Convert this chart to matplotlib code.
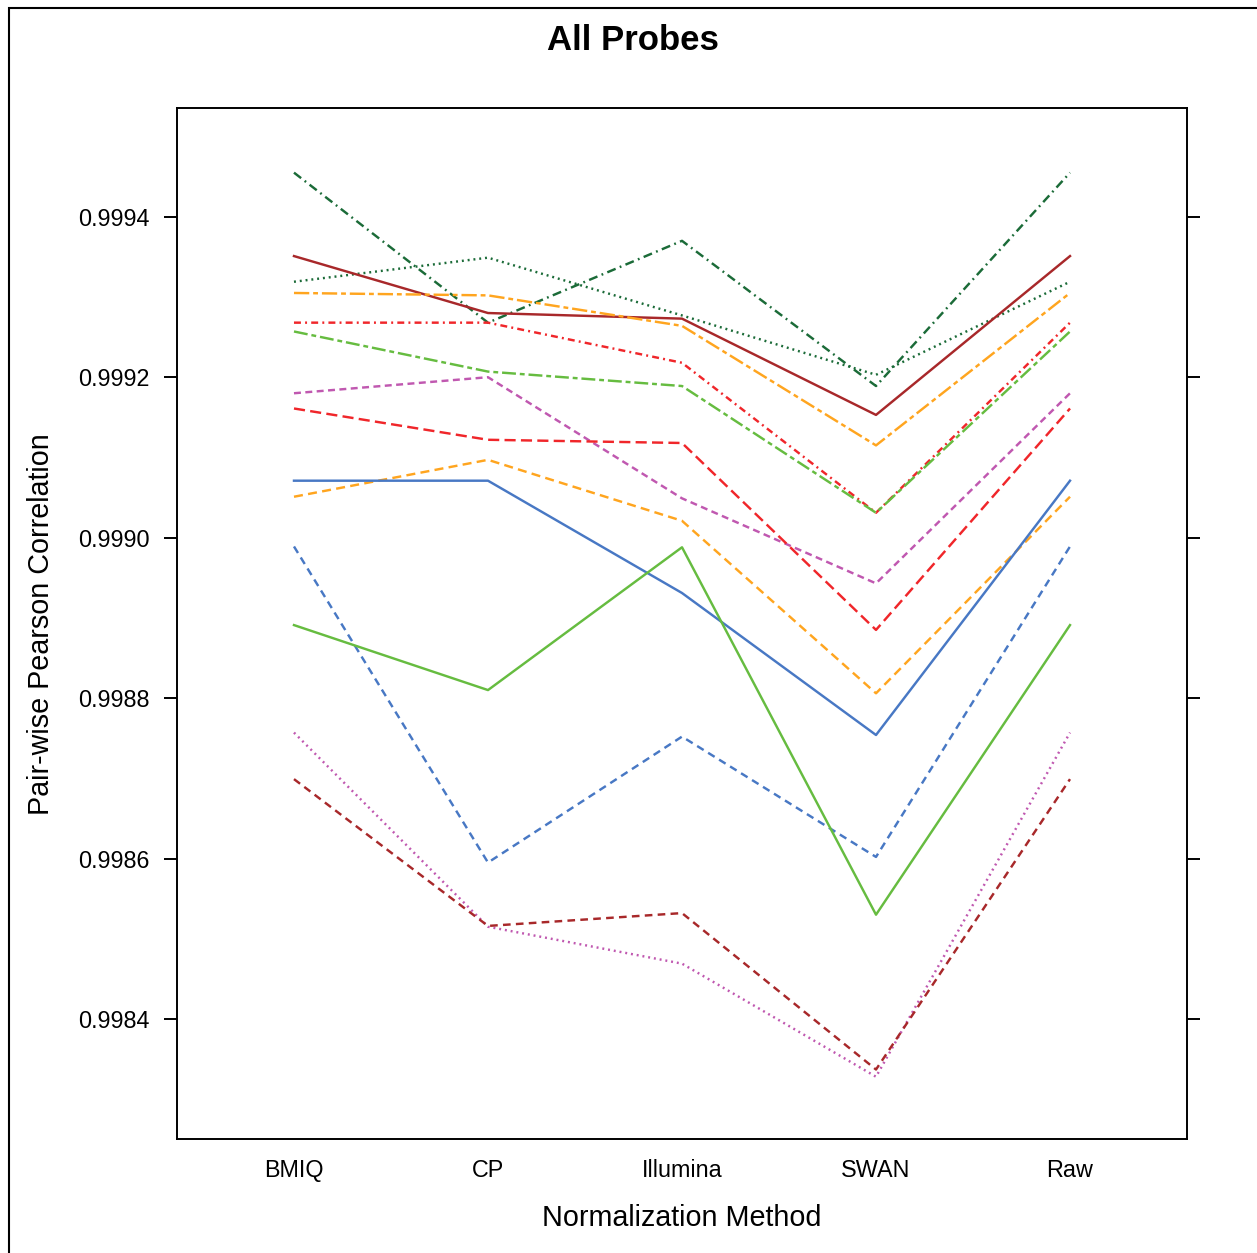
import matplotlib
matplotlib.use("Agg")
import matplotlib.pyplot as plt
from matplotlib.patches import Rectangle

plt.rcParams['font.family'] = ['Liberation Sans', 'DejaVu Sans']
plt.rcParams['lines.scale_dashes'] = False

methods = ["BMIQ", "CP", "Illumina", "SWAN", "Raw"]

# pair-wise correlations (Raw shares BMIQ value in the figure)
s_darkgreen_dashdot = [0.999455, 0.999268, 0.999370, 0.999189, 0.999455]
s_darkgreen_dotted  = [0.999319, 0.999349, 0.999277, 0.999203, 0.999319]
s_brown_solid       = [0.999351, 0.999280, 0.999273, 0.999153, 0.999351]
s_orange_twodash    = [0.999305, 0.999302, 0.999264, 0.999115, 0.999305]
s_red_dotdash       = [0.999268, 0.999268, 0.999218, 0.999031, 0.999268]
s_green_twodash     = [0.999257, 0.999207, 0.999189, 0.999031, 0.999257]
s_orchid_dashed     = [0.999180, 0.999200, 0.999049, 0.998943, 0.999180]
s_red_longdash      = [0.999161, 0.999122, 0.999118, 0.998885, 0.999161]
s_orange_dashed     = [0.999051, 0.999097, 0.999021, 0.998806, 0.999051]
s_blue_solid        = [0.999071, 0.999071, 0.998931, 0.998754, 0.999071]
s_blue_dashed       = [0.998989, 0.998595, 0.998752, 0.998602, 0.998989]
s_green_solid       = [0.998891, 0.998810, 0.998988, 0.998530, 0.998891]
s_orchid_dotted     = [0.998757, 0.998515, 0.998469, 0.998328, 0.998757]
s_brown_dashed      = [0.998699, 0.998516, 0.998532, 0.998337, 0.998699]

yticks = [0.9984, 0.9986, 0.9988, 0.9990, 0.9992, 0.9994]
ytick_labels = ["0.9984", "0.9986", "0.9988", "0.9990", "0.9992", "0.9994"]

DG = "#1B6B38"
BR = "#A8282A"
OR = "#FFA51F"
RD = "#F0262A"
GR = "#66BC40"
OC = "#C058B0"
BL = "#4878C4"

styles = [
    (s_darkgreen_dashdot, DG, (0, (6.5, 3.2, 1.3, 3.2))),
    (s_darkgreen_dotted, DG, (0, (1.4, 2.8))),
    (s_brown_solid, BR, '-'),
    (s_orange_twodash, OR, (0, (11, 2.8, 3.5, 2.8))),
    (s_red_dotdash, RD, (0, (5, 3, 1.4, 3))),
    (s_green_twodash, GR, (0, (10, 2.8, 3.5, 2.8))),
    (s_orchid_dashed, OC, (0, (5, 3.2))),
    (s_red_longdash, RD, (0, (8, 3.8))),
    (s_orange_dashed, OR, (0, (6.5, 3.8))),
    (s_blue_solid, BL, '-'),
    (s_blue_dashed, BL, (0, (5.5, 3.8))),
    (s_green_solid, GR, '-'),
    (s_orchid_dotted, OC, (0, (1.4, 2.8))),
    (s_brown_dashed, BR, (0, (5.5, 3.8))),
]

fig = plt.figure(figsize=(12.57, 12.53), dpi=100)
ax = fig.add_axes([177/1257, 1 - 1139/1253, 1010/1257, (1139 - 108.3)/1253])

x = list(range(1, len(methods) + 1))
for vals, col, ls in styles:
    ax.plot(x, vals, color=col, linestyle=ls, linewidth=1.75)

ax.set_xlim(0.397, 5.603)
ax.set_ylim(0.9982504, 0.9995352)
ax.set_xticks(x)
ax.set_xticklabels(methods, fontsize=16.8)
ax.set_yticks(yticks)
ax.set_yticklabels(ytick_labels, fontsize=16.8)
ax.tick_params(axis='x', length=0, pad=14.5)
ax.tick_params(axis='y', length=9.5, width=1.4, direction='out', pad=10,
               right=True, labelright=False)
for sp in ax.spines.values():
    sp.set_linewidth(1.4)

ax.set_xlabel("Normalization Method", fontsize=20.7, labelpad=16)
ax.set_ylabel("Pair-wise Pearson Correlation", fontsize=20.7, labelpad=17)

fig.text(633/1257, 1 - 41/1253, "All Probes", fontsize=25, fontweight='bold',
         ha='center', va='center')

fig.patches.append(Rectangle((9/1257, -0.1), 1.2, 1 - 8/1253 + 0.1, fill=False,
                             edgecolor='black', linewidth=1.5,
                             transform=fig.transFigure, clip_on=False))

fig.savefig("out.png", dpi=100)
